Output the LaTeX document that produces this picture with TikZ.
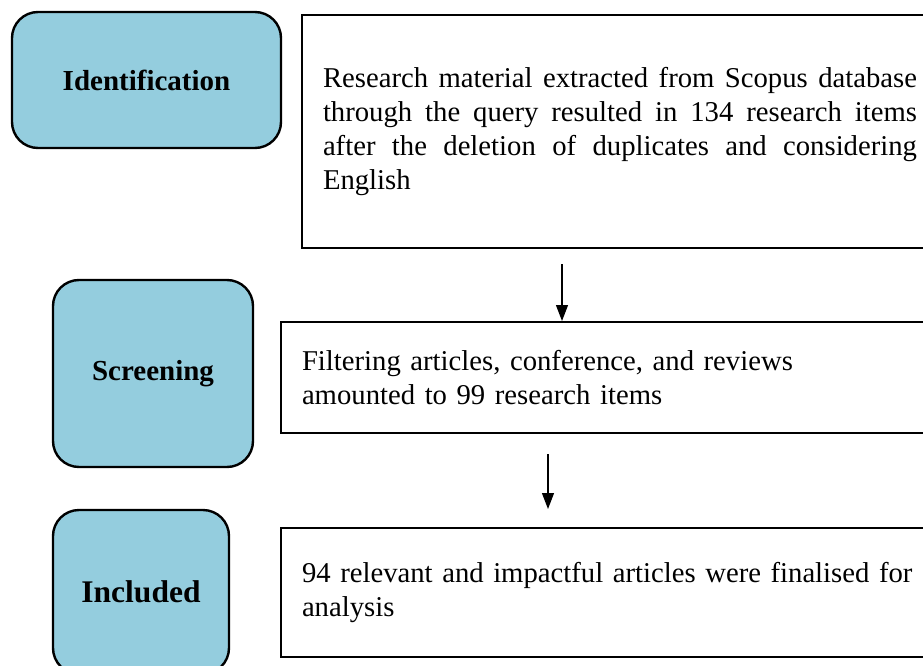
\documentclass[tikz,border=0pt]{standalone}
\usepackage{fontspec}
\setmainfont{Liberation Serif}
\usetikzlibrary{arrows.meta}
\definecolor{stagefill}{RGB}{148,205,222}
\hyphenpenalty=10000
\begin{document}
\begin{tikzpicture}[x=1pt,y=-1pt,>={Triangle[width=12pt,length=16pt]},
  stage/.style={draw,line width=2.4pt,rounded corners=26pt,fill=stagefill,font=\fontsize{29}{34}\selectfont\bfseries},
  info/.style={draw,line width=2pt,anchor=north west,inner xsep=21pt,text width=594pt,font=\fontsize{28.7}{34}\selectfont}]
\useasboundingbox(0,0)rectangle(923,666);
\clip(0,0)rectangle(923,666);
\node[stage,minimum width=269pt,minimum height=136pt](ident)at(146.5,80){Identification};
\node[stage,minimum width=200pt,minimum height=187pt](screen)at(153,373.5){Screening};
\node[stage,minimum width=176pt,minimum height=164pt,font=\fontsize{31.5}{36}\selectfont\bfseries](incl)at(141,592){Included};
\node[info,align=justify,minimum height=233pt](extract)at(301,14){Research material extracted from Scopus database through the query resulted in 134 research items after the deletion of duplicates and considering English};
\node[info,align=left,text width=660pt,minimum height=111pt](filter)at(280,321){Filtering articles, conference, and reviews\\amounted to 99 research items};
\node[info,align=left,text width=660pt,minimum height=129pt](final)at(280,527){94 relevant and impactful articles were finalised for\\analysis};
\coordinate(a1)at(562,0);
\coordinate(a2)at(548,0);
\draw[->,line width=1.2pt,shorten <=15pt](extract.south -| a1)--(filter.north -| a1);
\draw[->,line width=1.2pt,shorten <=20pt,shorten >=18pt](filter.south -| a2)--(final.north -| a2);
\end{tikzpicture}
\end{document}
